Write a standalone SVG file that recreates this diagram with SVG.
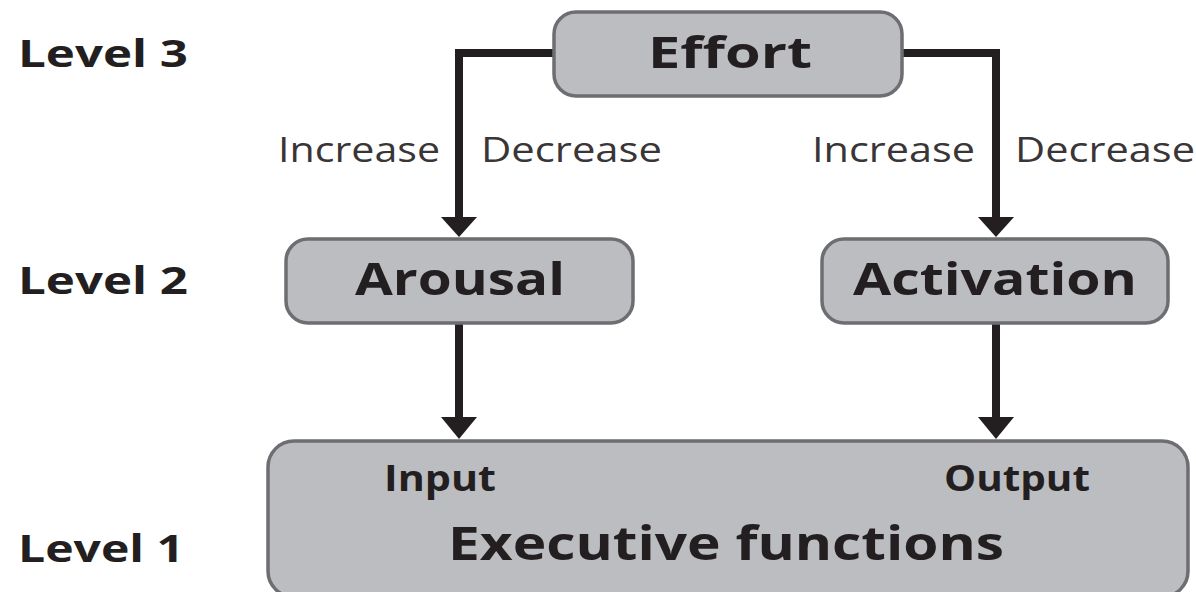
<svg xmlns="http://www.w3.org/2000/svg" width="1196" height="592" viewBox="0 0 1196 592">
<style>
.box{fill:#bcbdc0;stroke:#6d6e71;stroke-width:3.5}
.lvl{font-family:"Open Sans","DejaVu Sans",sans-serif;font-weight:bold;font-size:38px;fill:#231f20}
.title{font-family:"Open Sans","DejaVu Sans",sans-serif;font-weight:bold;fill:#231f20}
.lab{font-family:"Open Sans","DejaVu Sans",sans-serif;font-size:34px;fill:#3a3536}
.wire{fill:none;stroke:#231f20;stroke-width:8}
.head{fill:#231f20}
</style>
<rect width="1196" height="592" fill="#ffffff"/>
<g id="levels">
<text class="lvl" x="18" y="67" textLength="170" lengthAdjust="spacingAndGlyphs">Level 3</text>
<text class="lvl" x="18" y="294" textLength="170" lengthAdjust="spacingAndGlyphs">Level 2</text>
<text class="lvl" x="18" y="562" textLength="166" lengthAdjust="spacingAndGlyphs">Level 1</text>
</g>
<g id="connectors">
<path class="wire" d="M553 53 H459 V219"/>
<polygon class="head" points="441,217 477,217 459,237"/>
<path class="wire" d="M902 53 H996 V219"/>
<polygon class="head" points="978,217 1014,217 996,237"/>
<path class="wire" d="M459 323 V419"/>
<polygon class="head" points="441,417 477,417 459,439"/>
<path class="wire" d="M996 323 V419"/>
<polygon class="head" points="978,417 1014,417 996,439"/>
<text class="lab" x="278" y="162" textLength="162" lengthAdjust="spacingAndGlyphs">Increase</text>
<text class="lab" x="481" y="162" textLength="181" lengthAdjust="spacingAndGlyphs">Decrease</text>
<text class="lab" x="812" y="162" textLength="163" lengthAdjust="spacingAndGlyphs">Increase</text>
<text class="lab" x="1015" y="162" textLength="180" lengthAdjust="spacingAndGlyphs">Decrease</text>
</g>
<g id="effort">
<rect class="box" x="554" y="12" width="348" height="84" rx="22"/>
<text class="title" x="648" y="68" font-size="43" textLength="164" lengthAdjust="spacingAndGlyphs">Effort</text>
</g>
<g id="arousal">
<rect class="box" x="286" y="239" width="347" height="84" rx="22"/>
<text class="title" x="355" y="295" font-size="44" textLength="210" lengthAdjust="spacingAndGlyphs">Arousal</text>
</g>
<g id="activation">
<rect class="box" x="822" y="239" width="346" height="84" rx="22"/>
<text class="title" x="853" y="295" font-size="44" textLength="284" lengthAdjust="spacingAndGlyphs">Activation</text>
</g>
<g id="executive">
<rect class="box" x="268" y="441" width="920" height="156" rx="26"/>
<text class="title" x="384" y="491" font-size="36" textLength="112" lengthAdjust="spacingAndGlyphs">Input</text>
<text class="title" x="944" y="491" font-size="36" textLength="146" lengthAdjust="spacingAndGlyphs">Output</text>
<text class="title" x="448" y="560" font-size="46" textLength="556" lengthAdjust="spacingAndGlyphs">Executive functions</text>
</g>
</svg>
